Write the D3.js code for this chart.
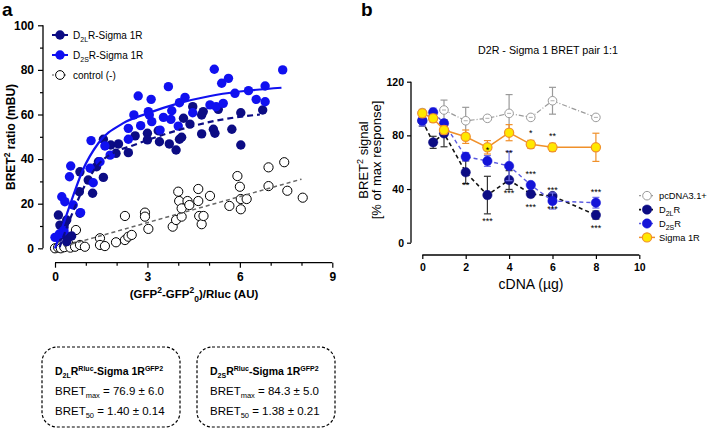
<!DOCTYPE html>
<html><head><meta charset="utf-8">
<script src="https://cdn.jsdelivr.net/npm/d3@7"></script>
<style>body{margin:0;background:#fff}svg{display:block}text{font-family:"Liberation Sans",Arial,sans-serif}</style>
</head><body><svg id="c" width="707" height="431"></svg>
<script>
// ---------- Panel a data ----------
const aXTicks = [0, 3, 6, 9];
const aYTicks = [0, 20, 40, 60, 80, 100];
const d2sPoints = [[0,4.9],[0.14,6.4],[0.25,7.4],[0.29,7.9],[0.22,23.1],[0.32,20.9],[0.59,19.4],[0.83,16],[0.51,36.9],[0.47,32.1],[1.14,35.9],[1.24,29.4],[1.17,48.3],[1.62,45.9],[1.79,41.8],[1.46,38.8],[2.38,48.9],[2.38,53.8],[2.56,59.8],[2.70,68.3],[2.78,55],[3.03,61.3],[3.06,59.8],[3.12,66.8],[3.14,56.8],[3.41,53],[3.52,58.7],[3.68,72.5],[3.76,57.8],[3.79,61.7],[4.0,54.8],[4.04,65.3],[4.22,67.7],[4.47,60.8],[5.03,64.3],[5.17,80.3],[5.23,63.5],[5.41,74],[5.46,65],[5.63,76.2],[5.84,69.5],[6.28,70.7],[6.53,66.8],[6.82,72.8],[6.82,65.7],[7.39,80]];
const d2lPoints = [[0.11,4.9],[0.32,6],[0.54,5.5],[0.38,3],[0.11,14.9],[0.38,12.7],[0.16,10.4],[0.29,9.4],[0.81,15.7],[0.79,25.4],[0.81,34.3],[1.08,30.6],[1.22,24.7],[1.57,31.8],[1.35,36.6],[1.41,38.8],[1.57,48.9],[1.81,46.3],[2.06,46.8],[1.98,42.6],[2.38,42.9],[2.6,50.4],[3.0,51.6],[3.0,48.6],[3.35,52.7],[3.39,47.8],[3.71,46.8],[3.93,44.1],[4.04,48.9],[4.11,49.8],[4.17,58.3],[4.38,55.7],[4.47,63.5],[4.76,59.8],[4.81,61.3],[4.76,51.3],[5.14,53.4],[5.19,51.6],[5.3,62.3],[5.74,53.4],[6.03,46.3],[6.03,60.8],[6.74,62]];
const ctrlPoints = [[0,0],[0.1,0.4],[0.19,0],[0.3,0.5],[0.43,2.2],[0.5,0.3],[0.65,0.7],[0.68,8.2],[0.81,1.5],[0.97,0.7],[1.46,4.5],[1.46,1.5],[1.62,1],[1.98,2.7],[2.27,14.5],[2.27,3.7],[2.38,5.2],[2.49,6],[2.92,16],[2.92,14.2],[3.03,8.7],[3.82,9.7],[3.93,12.7],[4.0,25.4],[4.03,21.2],[4.11,14.2],[4.11,17.9],[4.3,21.2],[4.36,19.4],[4.65,26.6],[4.65,21.2],[4.68,14.5],[4.76,10.8],[4.82,14.5],[5.03,23.5],[5.66,19],[5.92,32.4],[6.0,27.6],[6.03,22.1],[6.03,17.5],[6.22,22.1],[6.93,36.3],[6.93,27.9],[7.44,38.6],[7.54,25.8],[8.04,22.7]];
// fit curves
const d2sFit = [[0,0],[0.3,12],[0.6,24],[0.9,35],[1.4,47],[2.2,56],[3,60.5],[4,65],[5,68.2],[6,70.3],[7.35,72]];
const d2lFit = [[0.15,0.5],[0.6,17],[1,29],[1.4,37.5],[2,43.5],[2.5,46],[3.1,49],[4.2,53.8],[5.25,57.3],[6.65,60]];
const ctrlFit = [[0.3,1.0],[8.0,31.0]];

// ---------- Panel b data ----------
const bXTicks = [0, 2, 4, 6, 8, 10];
const bYTicks = [0, 40, 80, 120];
const pcX = [0, 1, 2, 3, 4, 5, 6, 8];
const pcY = [97, 98.9, 90.9, 92.7, 96.4, 93.4, 105.8, 93.4];
const pcE = [0, 7.4, 10, 0, 14, 0, 10, 0];
const sigX = [0, 0.5, 1, 2, 3, 4, 5, 6, 8];
const sigY = [96.4, 92.7, 84, 79, 71.1, 82, 73.3, 71.1, 71.1];
const sigE = [3, 3, 3, 5, 5, 6, 3, 3, 10.5];
const d2lX = [0, 0.5, 1, 2, 3, 4, 5, 6, 8];
const d2lY = [90.9, 74.8, 81.5, 52.5, 35.5, 46.7, 36.3, 34.8, 20.6];
const d2lE = [4, 4.5, 10, 8.5, 14, 7, 2, 2, 3];
const d2sX = [0, 0.5, 1, 2, 3, 4, 5, 6, 8];
const d2sY = [91, 97.2, 89, 64.1, 60.9, 57.2, 43, 31.1, 29.8];
const d2sE = [4, 3, 2, 3, 4, 11, 2, 6, 4];
const stars = [
  {x:2, y:52.5, t:"**", pos:"below"}, {x:3, y:35.5, t:"***", pos:"below2"}, {x:4, y:46.7, t:"***", pos:"below"},
  {x:5, y:36.3, t:"***", pos:"below"}, {x:6, y:34.8, t:"***", pos:"below"}, {x:8, y:20.6, t:"***", pos:"below"},
  {x:5, y:43, t:"***", pos:"above"}, {x:6, y:31.1, t:"***", pos:"above2"}, {x:8, y:29.8, t:"***", pos:"above2"},
  {x:4, y:57.2, t:"**", pos:"above3"}, {x:3, y:60.9, t:"*", pos:"above"},
  {x:5, y:73.3, t:"*", pos:"above"}, {x:6, y:71.1, t:"**", pos:"above"}
];

const svg = d3.select("#c");
const F = '"Liberation Sans",Arial,sans-serif';
const NAVY = "#0c0c84", BLUE = "#1010f0";

// ================= Panel a =================
const xA = d3.scaleLinear().domain([0, 9]).range([55, 332.3]);
const yA = d3.scaleLinear().domain([0, 100]).range([248.3, 25.3]);
const gA = svg.append("g");
svg.append("text").attr("x", 2).attr("y", 16).attr("font-size", 19).attr("font-weight", "bold").text("a");

gA.append("g").attr("transform", "translate(43,0)")
  .call(d3.axisLeft(yA).tickValues(aYTicks).tickSize(5).tickPadding(4));
gA.append("g").attr("transform", "translate(43,0)")
  .call(d3.axisLeft(yA).tickValues(d3.range(10, 100, 20)).tickSize(3).tickFormat(""));
gA.append("g").attr("transform", "translate(0,262.7)")
  .call(d3.axisBottom(xA).tickValues(aXTicks).tickSize(5).tickPadding(5));
gA.append("g").attr("transform", "translate(0,262.7)")
  .call(d3.axisBottom(xA).tickValues([1,2,4,5,7,8]).tickSize(3).tickFormat(""));
gA.selectAll(".domain").remove();
gA.selectAll(".tick line").attr("stroke-width", 1.2);
gA.selectAll(".tick text").attr("font-size", 12).attr("font-weight", "bold").attr("fill", "#000").attr("font-family", F);
gA.append("line").attr("x1", 43).attr("x2", 43).attr("y1", yA(100)).attr("y2", yA(0)).attr("stroke", "#000").attr("stroke-width", 1.3);
gA.append("line").attr("x1", xA(0)).attr("x2", xA(9)).attr("y1", 262.7).attr("y2", 262.7).attr("stroke", "#000").attr("stroke-width", 1.3);

// axis titles
const yt = gA.append("text").attr("transform", "translate(15,137) rotate(-90)").attr("text-anchor", "middle")
  .attr("font-size", 12).attr("font-weight", "bold");
yt.append("tspan").text("BRET");
yt.append("tspan").attr("dy", -5).attr("font-size", 8.5).text("2");
yt.append("tspan").attr("dy", 5).text(" ratio (mBU)");
const xt = gA.append("text").attr("x", 194).attr("y", 298).attr("text-anchor", "middle").attr("font-size", 11.5).attr("font-weight", "bold");
xt.append("tspan").text("(GFP");
xt.append("tspan").attr("dy", -5).attr("font-size", 8.5).text("2");
xt.append("tspan").attr("dy", 5).text("-GFP");
xt.append("tspan").attr("dy", -5).attr("font-size", 8.5).text("2");
xt.append("tspan").attr("dy", 9).attr("font-size", 8.5).text("0");
xt.append("tspan").attr("dy", -4).text(")/Rluc (AU)");

const lineA = d3.line().x(d => xA(d[0])).y(d => yA(d[1]));
const curveA = d3.line().x(d => xA(d[0])).y(d => yA(d[1])).curve(d3.curveMonotoneX);
gA.append("g").selectAll("circle").data(ctrlPoints).join("circle")
  .attr("cx", d => xA(d[0])).attr("cy", d => yA(d[1])).attr("r", 4.6)
  .attr("fill", "#fff").attr("stroke", "#000").attr("stroke-width", 1);
gA.append("path").datum(ctrlFit).attr("d", lineA).attr("fill", "none").attr("stroke", "#666").attr("stroke-width", 1.5).attr("stroke-dasharray", "4,3");
gA.append("g").selectAll("circle").data(d2lPoints).join("circle")
  .attr("cx", d => xA(d[0])).attr("cy", d => yA(d[1])).attr("r", 4.7).attr("fill", NAVY);
gA.append("g").selectAll("circle").data(d2sPoints).join("circle")
  .attr("cx", d => xA(d[0])).attr("cy", d => yA(d[1])).attr("r", 4.7).attr("fill", BLUE);
gA.append("path").datum(d2lFit).attr("d", curveA).attr("fill", "none").attr("stroke", NAVY).attr("stroke-width", 2.2).attr("stroke-dasharray", "6,4");
gA.append("path").datum(d2sFit).attr("d", curveA).attr("fill", "none").attr("stroke", BLUE).attr("stroke-width", 2.2);

// legend a
const legA = [
  {t:["D","2L","R-Sigma 1R"], fill: NAVY, stroke: NAVY, open:false},
  {t:["D","2S","R-Sigma 1R"], fill: BLUE, stroke: BLUE, open:false},
  {t:["control (-)"], fill: "#fff", stroke: "#000", open:true}
];
legA.forEach((l, i) => {
  const y = 35 + i * 20;
  const g = gA.append("g");
  if (l.open) {
    g.append("line").attr("x1", 52).attr("x2", 68).attr("y1", y).attr("y2", y).attr("stroke", "#555").attr("stroke-width", 1.2).attr("stroke-dasharray", "2,2");
    g.append("circle").attr("cx", 60).attr("cy", y).attr("r", 4.4).attr("fill", "#fff").attr("stroke", "#000");
  } else {
    g.append("line").attr("x1", 52).attr("x2", 68).attr("y1", y).attr("y2", y).attr("stroke", l.stroke).attr("stroke-width", 2);
    g.append("circle").attr("cx", 60).attr("cy", y).attr("r", 4.7).attr("fill", l.fill);
  }
  const tx = g.append("text").attr("x", 73).attr("y", y + 4).attr("font-size", 10);
  tx.append("tspan").text(l.t[0]);
  if (l.t.length > 1) {
    tx.append("tspan").attr("dy", 3).attr("font-size", 7).text(l.t[1]);
    tx.append("tspan").attr("dy", -3).text(l.t[2]);
  }
});

// parameter boxes
const boxes = [
  {x: 42, sub: "2L", max: "76.9 ± 6.0", b50: "1.40 ± 0.14"},
  {x: 197, sub: "2S", max: "84.3 ± 5.0", b50: "1.38 ± 0.21"}
];
boxes.forEach(b => {
  const g = svg.append("g");
  g.append("rect").attr("x", b.x).attr("y", 347).attr("width", 138).attr("height", 80).attr("rx", 15)
    .attr("fill", "none").attr("stroke", "#000").attr("stroke-width", 1.2).attr("stroke-dasharray", "3,2");
  const t1 = g.append("text").attr("x", b.x + 13).attr("y", 375).attr("font-size", 10.5).attr("font-weight", "bold");
  t1.append("tspan").text("D");
  t1.append("tspan").attr("dy", 3).attr("font-size", 7).text(b.sub);
  t1.append("tspan").attr("dy", -3).text("R");
  t1.append("tspan").attr("dy", -4).attr("font-size", 7).text("Rluc");
  t1.append("tspan").attr("dy", 4).text("-Sigma 1R");
  t1.append("tspan").attr("dy", -4).attr("font-size", 7).text("GFP2");
  const t2 = g.append("text").attr("x", b.x + 13).attr("y", 395).attr("font-size", 11.5);
  t2.append("tspan").text("BRET");
  t2.append("tspan").attr("dy", 3).attr("font-size", 7.5).text("max");
  t2.append("tspan").attr("dy", -3).text(" = " + b.max);
  const t3 = g.append("text").attr("x", b.x + 13).attr("y", 415).attr("font-size", 11.5);
  t3.append("tspan").text("BRET");
  t3.append("tspan").attr("dy", 3).attr("font-size", 7.5).text("50");
  t3.append("tspan").attr("dy", -3).text(" = " + b.b50);
});

// ================= Panel b =================
const xB = d3.scaleLinear().domain([0, 10]).range([422.3, 639.3]);
const yB = d3.scaleLinear().domain([0, 120]).range([242.7, 81.7]);
const gB = svg.append("g");
svg.append("text").attr("x", 361).attr("y", 16).attr("font-size", 19).attr("font-weight", "bold").text("b");
gB.append("text").attr("x", 548).attr("y", 54).attr("text-anchor", "middle").attr("font-size", 10.7).text("D2R - Sigma 1 BRET pair 1:1");

gB.append("g").attr("transform", "translate(411,0)").call(d3.axisLeft(yB).tickValues(bYTicks).tickSize(4).tickPadding(3));
gB.append("g").attr("transform", "translate(0,255)").call(d3.axisBottom(xB).tickValues(bXTicks).tickSize(4).tickPadding(5));
gB.selectAll(".domain").remove();
gB.selectAll(".tick line").attr("stroke-width", 1.2);
gB.selectAll(".tick text").attr("font-size", 10.5).attr("font-weight", "bold").attr("fill", "#000").attr("font-family", F);
gB.append("line").attr("x1", 411).attr("x2", 411).attr("y1", yB(120)).attr("y2", yB(0)).attr("stroke", "#000").attr("stroke-width", 1.3);
gB.append("line").attr("x1", xB(0)).attr("x2", xB(10)).attr("y1", 255).attr("y2", 255).attr("stroke", "#000").attr("stroke-width", 1.3);

const ybt = gB.append("text").attr("transform", "translate(368,160) rotate(-90)").attr("text-anchor", "middle").attr("font-size", 13);
ybt.append("tspan").text("BRET");
ybt.append("tspan").attr("dy", -5).attr("font-size", 9).text("2");
ybt.append("tspan").attr("dy", 5).text(" signal");
gB.append("text").attr("transform", "translate(381,160) rotate(-90)").attr("text-anchor", "middle").attr("font-size", 13).text("[% of max response]");
gB.append("text").attr("x", 531).attr("y", 289).attr("text-anchor", "middle").attr("font-size", 14).text("cDNA (µg)");

function series(xs, ys, es, opt) {
  const data = xs.map((x, i) => ({x, y: ys[i], e: es[i]}));
  const g = gB.append("g");
  g.append("path").datum(data).attr("d", d3.line().x(d => xB(d.x)).y(d => yB(d.y)))
    .attr("fill", "none").attr("stroke", opt.line).attr("stroke-width", opt.lw).attr("stroke-dasharray", opt.dash);
  const eb = g.selectAll("g.eb").data(data.filter(d => d.e > 0)).join("g");
  eb.append("line").attr("x1", d => xB(d.x)).attr("x2", d => xB(d.x)).attr("y1", d => yB(d.y + d.e)).attr("y2", d => yB(d.y - d.e)).attr("stroke", opt.err).attr("stroke-width", 1.2);
  eb.append("line").attr("x1", d => xB(d.x) - 3.5).attr("x2", d => xB(d.x) + 3.5).attr("y1", d => yB(d.y + d.e)).attr("y2", d => yB(d.y + d.e)).attr("stroke", opt.err).attr("stroke-width", 1.2);
  eb.append("line").attr("x1", d => xB(d.x) - 3.5).attr("x2", d => xB(d.x) + 3.5).attr("y1", d => yB(d.y - d.e)).attr("y2", d => yB(d.y - d.e)).attr("stroke", opt.err).attr("stroke-width", 1.2);
  g.selectAll("circle").data(data).join("circle").attr("cx", d => xB(d.x)).attr("cy", d => yB(d.y)).attr("r", opt.r)
    .attr("fill", opt.fill).attr("stroke", opt.stroke).attr("stroke-width", opt.sw);
  if (opt.inner) g.selectAll("line.in").data(data).join("line").attr("class","in").attr("x1", d => xB(d.x) - 2).attr("x2", d => xB(d.x) + 2).attr("y1", d => yB(d.y)).attr("y2", d => yB(d.y)).attr("stroke", opt.stroke).attr("stroke-width", 0.8);
}
const ST = {
  pc: {line: "#9a9a9a", lw: 1.2, dash: "5,2,1,2", err: "#9a9a9a", fill: "#fff", stroke: "#9a9a9a", sw: 1, r: 4.3, inner: true},
  d2l: {line: "#111", lw: 1.6, dash: "4,3", err: "#333", fill: NAVY, stroke: NAVY, sw: 0.5, r: 4.7},
  d2s: {line: "#5a5ae0", lw: 1.4, dash: "4,3", err: "#6f6fe6", fill: "#1414d8", stroke: "#1414d8", sw: 0.5, r: 4.7},
  sig: {line: "#f0902a", lw: 1.5, dash: null, err: "#f0902a", fill: "#ffe800", stroke: "#f0902a", sw: 1.2, r: 4.6}
};
series(pcX, pcY, pcE, ST.pc);
series(d2lX, d2lY, d2lE, ST.d2l);
series(d2sX, d2sY, d2sE, ST.d2s);
series(sigX, sigY, sigE, ST.sig);

gB.append("g").selectAll("text").data(stars).join("text")
  .attr("x", d => xB(d.x)).attr("y", d => yB(d.y) + (d.pos.startsWith("below") ? (d.pos === "below2" ? 29 : 16) : (d.pos === "above3" ? -10 : -8)))
  .attr("text-anchor", "middle").attr("font-size", 9).text(d => d.t);

// legend b
const legB = [
  {k: "pc", t: ["pcDNA3.1+"]}, {k: "d2l", t: ["D", "2L", "R"]}, {k: "d2s", t: ["D", "2S", "R"]}, {k: "sig", t: ["Sigma 1R"]}
];
legB.forEach((l, i) => {
  const y = 195.7 + i * 13.9;
  const o = ST[l.k];
  const g = gB.append("g");
  g.append("line").attr("x1", 639).attr("x2", 655).attr("y1", y).attr("y2", y).attr("stroke", o.line).attr("stroke-width", o.lw).attr("stroke-dasharray", o.dash ? "2,2" : null);
  g.append("circle").attr("cx", 647).attr("cy", y).attr("r", o.r).attr("fill", o.fill).attr("stroke", o.stroke).attr("stroke-width", o.sw);
  const tx = g.append("text").attr("x", 659).attr("y", y + 3.5).attr("font-size", 9.3);
  tx.append("tspan").text(l.t[0]);
  if (l.t.length > 1) {
    tx.append("tspan").attr("dy", 3).attr("font-size", 7).text(l.t[1]);
    tx.append("tspan").attr("dy", -3).text(l.t[2]);
  }
});
</script></body></html>
